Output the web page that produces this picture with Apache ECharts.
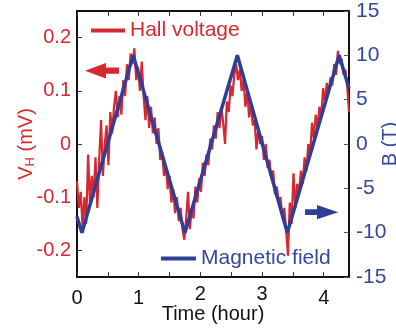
<!DOCTYPE html>
<html>
<head>
<meta charset="utf-8">
<script src="https://cdn.jsdelivr.net/npm/echarts@6/dist/echarts.min.js"></script>
<style>html,body{margin:0;padding:0;background:#fff}#c{width:396px;height:331px}</style>
</head>
<body>
<div id="c"></div>
<script>
// ---- data ----
var hallTime = [0.00,0.03,0.06,0.09,0.12,0.15,0.18,0.21,0.24,0.27,0.30,0.33,0.36,0.39,0.42,0.45,0.48,0.51,0.54,0.57,
0.60,0.63,0.66,0.69,0.72,0.75,0.78,0.81,0.84,0.87,0.90,0.93,0.96,0.99,1.02,1.05,1.08,1.11,1.14,1.17,
1.20,1.23,1.26,1.29,1.32,1.35,1.38,1.41,1.44,1.47,1.50,1.53,1.56,1.59,1.62,1.65,1.68,1.71,1.74,1.77,
1.80,1.83,1.86,1.89,1.92,1.95,1.98,2.01,2.04,2.07,2.10,2.13,2.16,2.19,2.22,2.25,2.28,2.31,2.34,2.37,
2.40,2.43,2.46,2.49,2.52,2.55,2.58,2.61,2.64,2.67,2.70,2.73,2.76,2.79,2.82,2.85,2.88,2.91,2.94,2.97,
3.00,3.03,3.06,3.09,3.12,3.15,3.18,3.21,3.24,3.27,3.30,3.33,3.36,3.39,3.42,3.45,3.48,3.51,3.54,3.57,
3.60,3.63,3.66,3.69,3.72,3.75,3.78,3.81,3.84,3.87,3.90,3.93,3.96,3.99,4.02,4.05,4.08,4.11,4.14,4.17,
4.20,4.23,4.26,4.29,4.32,4.35,4.38,4.41];
var hallVoltage = [-0.07,-0.12,-0.09,-0.155,-0.10,-0.15,-0.02,-0.11,-0.06,-0.10,-0.025,-0.12,-0.03,0.045,-0.06,0.00,0.035,-0.04,0.06,0.02,
0.07,0.10,0.05,0.09,0.055,0.12,0.09,0.15,0.12,0.17,0.15,0.18,0.12,0.145,0.10,0.155,0.09,0.045,0.09,0.03,
0.07,0.02,0.05,0.00,0.03,-0.03,-0.015,-0.06,-0.04,-0.085,-0.06,-0.11,-0.085,-0.13,-0.10,-0.145,-0.12,-0.16,-0.18,-0.14,
-0.09,-0.16,-0.12,-0.14,-0.08,-0.11,-0.065,-0.09,-0.035,-0.06,-0.02,-0.04,0.01,-0.01,0.035,0.01,0.06,0.03,0.07,0.04,
0.00,0.08,0.06,0.11,0.09,0.13,0.15,0.12,0.14,0.10,0.12,0.07,0.10,0.05,0.075,0.035,0.045,-0.01,0.03,0.00,
0.015,-0.03,0.00,-0.045,-0.03,-0.065,-0.05,-0.095,-0.08,-0.11,-0.10,-0.14,-0.12,-0.16,-0.21,-0.11,-0.15,-0.055,-0.12,-0.075,
-0.09,-0.05,-0.075,-0.025,-0.05,0.00,-0.02,0.04,0.01,0.055,0.03,0.07,0.05,0.105,0.08,0.115,0.095,0.125,0.11,0.15,
0.13,0.175,0.15,0.16,0.13,0.14,0.11,0.06];
var fieldTime = [0, 0.08, 0.91, 1.75, 2.60, 3.41, 4.25, 4.41];
var fieldB    = [-8.2, -10, 10, -10, 10, -10, 10, 6.3];
var vTicks = [-0.2, -0.1, 0, 0.1, 0.2];
var bTicks = [-15, -10, -5, 0, 5, 10, 15];
var tMinorTicks = [0, 0.5, 1, 1.5, 2, 2.5, 3, 3.5, 4];
var tLabels = [0, 1, 2, 3, 4];

var RED = '#d7282f', BLUE = '#34479c', LINEBLUE = '#2f3f98';
var FONT = '"Liberation Sans", Arial, Helvetica, sans-serif';

function zip(a, b) { return a.map(function (v, i) { return [v, b[i]]; }); }

var chart = echarts.init(document.getElementById('c'), null, {renderer: 'canvas'});
chart.setOption({
  animation: false,
  textStyle: {fontFamily: FONT},
  grid: {left: 77, top: 11, width: 272, height: 266, show: false, containLabel: false, outerBoundsMode: 'none'},
  legend: [
    {data: ['Hall voltage'], left: 91, top: 20, padding: 0, icon: 'rect', itemWidth: 34, itemHeight: 4,
     selectedMode: false, textStyle: {color: RED, fontSize: 21, fontFamily: FONT}},
    {data: ['Magnetic field'], left: 161, top: 248, padding: 0, icon: 'rect', itemWidth: 35, itemHeight: 4,
     selectedMode: false, textStyle: {color: BLUE, fontSize: 21, fontFamily: FONT}}
  ],
  xAxis: [
    {type: 'value', position: 'bottom', min: 0, max: 4.41,
     name: 'Time (hour)', nameLocation: 'middle', nameGap: 27, nameMoveOverlap: false,
     nameTextStyle: {color: '#111', fontSize: 20, fontFamily: FONT},
     axisLine: {show: true, onZero: false, lineStyle: {color: '#111', width: 2}},
     axisTick: {show: true, inside: true, length: 5, customValues: tMinorTicks, lineStyle: {color: '#333', width: 1}},
     axisLabel: {customValues: tLabels, margin: 11, color: '#111', fontSize: 20, fontFamily: FONT,
       formatter: function (v) { return (v === 2 || v === 3) ? '{up|' + v + '}' : String(v); },
       rich: {up: {lineHeight: 13, fontSize: 20, color: '#111', fontFamily: FONT}}},
     splitLine: {show: false}},
    {type: 'value', position: 'top', min: 0, max: 4.41,
     axisLine: {show: true, onZero: false, lineStyle: {color: '#111', width: 2}},
     axisTick: {show: true, inside: true, length: 5, customValues: tMinorTicks, lineStyle: {color: '#333', width: 1}},
     axisLabel: {show: false}, splitLine: {show: false}}
  ],
  yAxis: [
    {type: 'value', position: 'left', min: -0.25, max: 0.25,
     name: 'V{sub|H} (mV)', nameLocation: 'middle', nameRotate: 90, nameGap: 40, nameMoveOverlap: false,
     nameTextStyle: {color: RED, fontSize: 20, fontFamily: FONT,
       rich: {sub: {fontSize: 13, color: RED, fontFamily: FONT, verticalAlign: 'bottom', padding: [8, 0, 0, 0]}}},
     axisLine: {show: true, onZero: false, lineStyle: {color: '#111', width: 2}},
     axisTick: {show: true, inside: true, length: 5, customValues: vTicks, lineStyle: {color: '#333', width: 1}},
     axisLabel: {customValues: vTicks, margin: 6, color: RED, fontSize: 20, fontFamily: FONT},
     splitLine: {show: false}},
    {type: 'value', position: 'right', min: -15, max: 15, interval: 5,
     name: 'B (T)', nameLocation: 'middle', nameRotate: 90, nameGap: 31, nameMoveOverlap: false,
     nameTextStyle: {color: BLUE, fontSize: 20, fontFamily: FONT},
     axisLine: {show: true, onZero: false, lineStyle: {color: '#111', width: 2}},
     axisTick: {show: true, inside: true, length: 5, lineStyle: {color: '#555', width: 1}},
     axisLabel: {margin: 7, color: BLUE, fontSize: 21, fontFamily: FONT},
     splitLine: {show: false}}
  ],
  series: [
    {name: 'Hall voltage', type: 'line', xAxisIndex: 0, yAxisIndex: 0, data: zip(hallTime, hallVoltage),
     showSymbol: false, symbol: 'none', color: RED, lineStyle: {color: RED, width: 2.2}, z: 2},
    {name: 'Magnetic field', type: 'line', xAxisIndex: 0, yAxisIndex: 1, data: zip(fieldTime, fieldB),
     showSymbol: false, symbol: 'none', color: LINEBLUE, lineStyle: {color: LINEBLUE, width: 3.5}, z: 3}
  ],
  graphic: [
    {type: 'polygon', shape: {points: [[85,70.7],[106,63],[106,67.5],[119,67.5],[119,73.8],[106,73.8],[106,78.5]]},
     style: {fill: RED}, z: 10},
    {type: 'polygon', shape: {points: [[305,209.3],[317,209.3],[317,205],[338.3,212.2],[317,219.3],[317,215],[305,215]]},
     style: {fill: LINEBLUE}, z: 10}
  ]
});
</script>
</body>
</html>
